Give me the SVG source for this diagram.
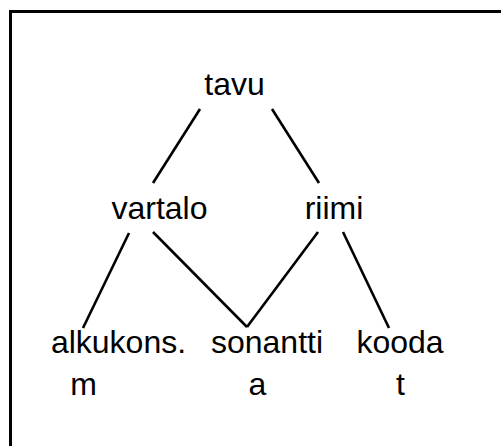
<svg xmlns="http://www.w3.org/2000/svg" width="501" height="446" viewBox="0 0 501 446">
  <style>
    .lbl { font-family: "Liberation Sans", Arial, Helvetica, sans-serif; font-size: 32px; fill: #000; text-anchor: middle; }
    .edge { stroke: #000; stroke-width: 2.6; fill: none; stroke-linecap: butt; }
    .frame { stroke: #000; stroke-width: 3; fill: none; }
  </style>
  <rect x="0" y="0" width="501" height="446" fill="#fff"/>
  <path class="frame" d="M10.5 446 V11.5 H501"/>
  <g id="connectors">
    <line class="edge" x1="200" y1="109" x2="153" y2="183"/>
    <line class="edge" x1="272" y1="109" x2="319" y2="183"/>
    <line class="edge" x1="129" y1="233" x2="83" y2="328"/>
    <line class="edge" x1="153" y1="232" x2="247" y2="327"/>
    <line class="edge" x1="318" y1="232" x2="247" y2="327"/>
    <line class="edge" x1="343" y1="232" x2="389" y2="328"/>
  </g>
  <g id="tavu"><text class="lbl" x="234.5" y="95">tavu</text></g>
  <g id="vartalo"><text class="lbl" x="159.5" y="219">vartalo</text></g>
  <g id="riimi"><text class="lbl" x="334" y="219">riimi</text></g>
  <g id="alkukons"><text class="lbl" x="118.5" y="353">alkukons.</text><text class="lbl" x="83.5" y="395">m</text></g>
  <g id="sonantti"><text class="lbl" x="267" y="353">sonantti</text><text class="lbl" x="257.5" y="395">a</text></g>
  <g id="kooda"><text class="lbl" x="400" y="353">kooda</text><text class="lbl" x="400.5" y="395">t</text></g>
</svg>
